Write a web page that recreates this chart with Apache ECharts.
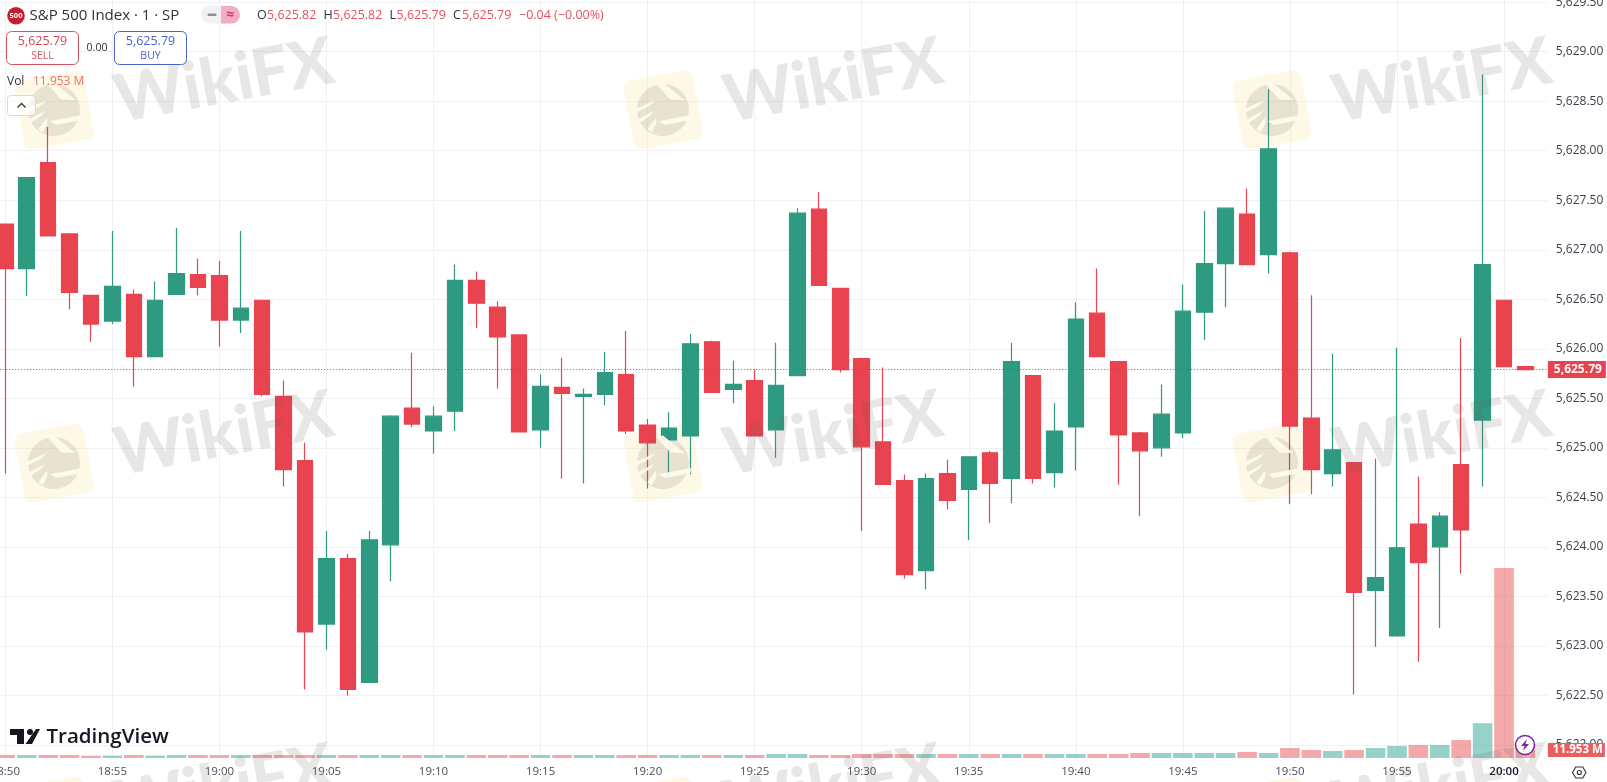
<!DOCTYPE html>
<html>
<head>
<meta charset="utf-8">
<title>S&amp;P 500 Index 1 min</title>
<style>
  html, body { margin: 0; padding: 0; background: #fff; }
  #chart { width: 1607px; height: 782px; }
</style>
<script src="https://cdn.jsdelivr.net/npm/echarts@6/dist/echarts.min.js"></script>
</head>
<body>
<div id="chart"></div>
<script>
// values, one entry per minute from 18:50 to 20:01
var opens = [
  5627.26, 5626.81, 5627.88, 5627.16, 5626.54, 5626.28, 5626.55, 5625.92, 5626.55, 5626.75, 5626.74, 5626.29,
  5626.49, 5625.52, 5624.87, 5623.22, 5623.88, 5622.63, 5624.02, 5625.40, 5625.17, 5625.37, 5626.69, 5626.42,
  5626.14, 5625.18, 5625.61, 5625.52, 5625.54, 5625.74, 5625.23, 5625.08, 5625.12, 5626.07, 5625.59, 5625.68,
  5625.18, 5625.73, 5627.41, 5626.61, 5625.90, 5625.06, 5624.67, 5623.76, 5624.74, 5624.58, 5624.95, 5624.69,
  5625.73, 5624.75, 5625.21, 5626.36, 5625.87, 5625.15, 5625.00, 5625.15, 5626.37, 5626.86, 5627.36, 5626.95,
  5626.97, 5625.30, 5624.74, 5624.85, 5623.56, 5623.10, 5624.23, 5624.00, 5624.83, 5625.28, 5626.49, 5625.82
];
var closes = [
  5626.81, 5627.73, 5627.14, 5626.57, 5626.25, 5626.63, 5625.92, 5626.49, 5626.76, 5626.62, 5626.29, 5626.41,
  5625.54, 5624.78, 5623.14, 5623.88, 5622.56, 5624.07, 5625.32, 5625.24, 5625.32, 5626.69, 5626.46, 5626.12,
  5625.16, 5625.62, 5625.55, 5625.54, 5625.76, 5625.17, 5625.05, 5625.20, 5626.05, 5625.56, 5625.64, 5625.12,
  5625.63, 5627.37, 5626.64, 5625.79, 5625.01, 5624.63, 5623.72, 5624.69, 5624.47, 5624.91, 5624.64, 5625.87,
  5624.69, 5625.17, 5626.30, 5625.92, 5625.13, 5624.97, 5625.34, 5626.38, 5626.86, 5627.42, 5626.85, 5628.02,
  5625.22, 5624.78, 5624.98, 5623.54, 5623.69, 5623.99, 5623.84, 5624.31, 5624.17, 5626.85, 5625.82, 5625.79
];
var lows = [
  5624.74, 5626.53, 5627.14, 5626.40, 5626.07, 5626.25, 5625.62, 5625.92, 5626.55, 5626.54, 5626.02, 5626.16,
  5625.52, 5624.61, 5622.56, 5622.96, 5622.50, 5622.63, 5623.65, 5625.21, 5624.94, 5625.17, 5626.21, 5625.60,
  5625.16, 5625.00, 5624.69, 5624.64, 5625.43, 5625.14, 5624.59, 5624.72, 5624.73, 5625.56, 5625.45, 5625.12,
  5624.90, 5625.73, 5626.64, 5625.76, 5624.16, 5624.63, 5623.68, 5623.57, 5624.38, 5624.07, 5624.24, 5624.44,
  5624.64, 5624.60, 5624.77, 5625.92, 5624.63, 5624.31, 5624.91, 5625.10, 5626.09, 5626.42, 5626.85, 5626.76,
  5624.43, 5624.53, 5624.61, 5622.51, 5622.99, 5623.10, 5622.84, 5623.18, 5623.73, 5624.61, 5625.82, 5625.79
];
var highs = [
  5627.26, 5627.73, 5628.24, 5627.16, 5626.54, 5627.19, 5626.60, 5626.68, 5627.22, 5626.91, 5626.89, 5627.19,
  5626.49, 5625.68, 5625.05, 5624.16, 5623.93, 5624.16, 5625.33, 5625.96, 5625.42, 5626.85, 5626.78, 5626.48,
  5626.14, 5625.74, 5625.91, 5625.60, 5625.97, 5626.18, 5625.29, 5625.36, 5626.15, 5626.08, 5625.88, 5625.79,
  5626.06, 5627.42, 5627.58, 5626.61, 5625.90, 5625.81, 5624.73, 5624.74, 5624.88, 5624.91, 5624.97, 5626.06,
  5625.73, 5625.45, 5626.47, 5626.81, 5625.87, 5625.16, 5625.64, 5626.65, 5627.39, 5627.42, 5627.62, 5628.62,
  5626.98, 5626.54, 5625.95, 5624.85, 5624.89, 5626.01, 5624.71, 5624.35, 5626.11, 5628.77, 5626.49, 5625.82
];
// millions
var volumes = [
  4.6, 4.4, 4.5, 4.4, 3.4, 3.6, 4.5, 3.6, 4.4, 4.4, 4.4, 4.6,
  4.5, 4.5, 4.5, 4.5, 4.4, 4.5, 4.5, 4.4, 4.5, 4.5, 4.4, 4.5,
  4.4, 4.5, 4.6, 4.5, 4.5, 4.4, 4.5, 4.5, 4.6, 4.5, 4.5, 4.5,
  6, 6, 4.5, 4.5, 6, 6, 6, 6, 6, 6, 6, 6,
  6, 6, 6, 6, 6, 7.5, 7.5, 7.5, 7.5, 7.5, 9, 7.5,
  15, 12, 10.5, 12, 15, 18, 19.5, 19.5, 27, 52, 284, 11.953
];
var priceTicks = { min: 5621.5, max: 5630, step: 0.5 };
var lastPrice = 5625.79;
var lastVolume = 11.953;

var RED = '#e8434f', GREEN = '#2e9a81', GRID = '#eff1f4', INK = '#2e323c';
var FONT = '"Open Sans", sans-serif';

function money(v) {
  return v.toLocaleString('en-US', { minimumFractionDigits: 2, maximumFractionDigits: 2 });
}
function clock(m) {
  var t = 18 * 60 + 50 + m;
  var mm = t % 60;
  return Math.floor(t / 60) + ':' + (mm < 10 ? '0' + mm : mm);
}

var candles = opens.map(function (o, i) {
  return [i, o, closes[i], lows[i], highs[i]];
});
var volumeBars = volumes.map(function (v, i) {
  return {
    value: [i, v],
    itemStyle: { color: closes[i] >= opens[i] ? 'rgba(46,165,150,0.5)' : 'rgba(232,84,84,0.5)' }
  };
});

// header, logo, watermark: all just graphic elements
function txt(x, y, text, fill, size, align, weight) {
  return {
    type: 'text', x: x, y: y, z: 60, silent: true,
    style: {
      text: text, fill: fill, align: align || 'left', verticalAlign: 'middle',
      font: (weight || 'normal') + ' ' + size + 'px ' + FONT
    }
  };
}
function box(x, y, w, h, stroke) {
  return {
    type: 'rect', z: 59, silent: true,
    shape: { x: x, y: y, width: w, height: h, r: 5 },
    style: { fill: '#fff', stroke: stroke, lineWidth: 1 }
  };
}
function watermark(cx, cy) {
  var grey = 'rgba(105,95,90,0.15)';
  var cut = 'rgba(254,250,236,0.95)';
  return {
    type: 'group', x: cx, y: cy, rotation: 10.5 * Math.PI / 180, silent: true,
    children: [
      // the cream tile sits under the candles, the grey parts over them
      { type: 'rect', z: 1, shape: { x: -35, y: -35, width: 70, height: 70, r: 8 }, style: { fill: 'rgba(250,232,170,0.28)' } },
      { type: 'circle', z: 51, shape: { cx: 0, cy: 0, r: 26 }, style: { fill: grey } },
      { type: 'polygon', z: 52, shape: { points: [[-2, -27], [5, -27], [23, -6], [9, -9]] }, style: { fill: cut } },
      { type: 'polygon', z: 52, shape: { points: [[-6, 10], [27, 10], [25, 15], [-1, 15]] }, style: { fill: cut } },
      { type: 'polygon', z: 52, shape: { points: [[-27, -6], [-6, -11], [-11, -7], [-27, -2]] }, style: { fill: cut } },
      { type: 'polygon', z: 52, shape: { points: [[-27, 5], [-9, -1], [-13, 3], [-26, 9]] }, style: { fill: cut } },
      { type: 'polygon', z: 52, shape: { points: [[-19, 16], [-8, 6], [-9, 12], [-15, 20]] }, style: { fill: cut } },
      {
        type: 'text', z: 51, x: 172.5, y: 3,
        style: { text: 'WikiFX', fill: grey, align: 'center', verticalAlign: 'middle', font: '900 66px Lato, sans-serif' }
      }
    ]
  };
}

var marks = [];
[-555, 54, 663, 1272].forEach(function (x) {
  [110, 463, 816].forEach(function (y) {
    marks.push(watermark(x, y));
  });
});

var chrome = [
  // symbol line
  { type: 'circle', z: 59, silent: true, shape: { cx: 16, cy: 15.7, r: 8.8 }, style: { fill: '#c2202f' } },
  txt(16, 15.9, '500', '#fff', 7.5, 'center', 'bold'),
  txt(29.5, 15.7, 'S&P 500 Index · 1 · SP', INK, 15),
  { type: 'rect', z: 59, silent: true, shape: { x: 201, y: 6, width: 39, height: 17.5, r: 8.7 }, style: { fill: '#f0f1f4' } },
  { type: 'rect', z: 60, silent: true, shape: { x: 221, y: 6, width: 19, height: 17.5, r: [0, 8.7, 8.7, 0] }, style: { fill: '#f2aec4' } },
  { type: 'rect', z: 61, silent: true, shape: { x: 207.5, y: 13.5, width: 9, height: 2.6, r: 1 }, style: { fill: '#8b8e96' } },
  txt(230, 14.8, '≈', '#d23a6e', 14, 'center', 'bold'),
  txt(257, 15.7, 'O', INK, 12.5), txt(267, 15.7, '5,625.82', '#e0535f', 12.5),
  txt(323.5, 15.7, 'H', INK, 12.5), txt(333, 15.7, '5,625.82', '#e0535f', 12.5),
  txt(389.5, 15.7, 'L', INK, 12.5), txt(396.5, 15.7, '5,625.79', '#e0535f', 12.5),
  txt(453, 15.7, 'C', INK, 12.5), txt(462, 15.7, '5,625.79', '#e0535f', 12.5),
  txt(519, 15.7, '−0.04 (−0.00%)', '#e0535f', 12.5),
  // sell / buy
  box(6.5, 31.5, 72, 33, '#d4545e'),
  txt(42.5, 41.7, '5,625.79', '#d4454f', 12.5, 'center'),
  txt(42.5, 56, 'SELL', '#d4545e', 10.5, 'center'),
  txt(97, 48.5, '0.00', INK, 10.5, 'center'),
  box(114.5, 31.5, 72, 33, '#4a62c8'),
  txt(150.5, 41.7, '5,625.79', '#4a62c8', 12.5, 'center'),
  txt(150.5, 56, 'BUY', '#4a62c8', 10.5, 'center'),
  // volume legend
  txt(7, 81.7, 'Vol', INK, 12),
  txt(33, 81.7, '11.953 M', '#ec7565', 12),
  { type: 'rect', z: 59, silent: true, shape: { x: 7.5, y: 95.5, width: 28, height: 20, r: 3 }, style: { fill: 'rgba(255,255,255,0.7)', stroke: '#d8dae0' } },
  { type: 'polyline', z: 60, silent: true, shape: { points: [[17.5, 107.5], [21.5, 103.5], [25.5, 107.5]] }, style: { fill: 'none', stroke: '#33363f', lineWidth: 1.4 } },
  // TradingView mark
  { type: 'polygon', z: 60, silent: true, shape: { points: [[10, 729], [24, 729], [24, 744], [17, 744], [17, 735], [10, 735]] }, style: { fill: '#131722' } },
  { type: 'polygon', z: 60, silent: true, shape: { points: [[36, 729], [40, 729], [32, 744], [25.5, 744]] }, style: { fill: '#131722' } },
  { type: 'circle', z: 60, silent: true, shape: { cx: 30, cy: 732, r: 3 }, style: { fill: '#131722' } },
  txt(46.5, 737, 'TradingView', '#131722', 20.5, 'left', '600'),
  // lightning button, settings hexagon
  { type: 'circle', z: 60, silent: true, shape: { cx: 1525, cy: 745, r: 9.5 }, style: { fill: '#fff', stroke: '#7b2d9e', lineWidth: 1.6 } },
  { type: 'polygon', z: 61, silent: true, shape: { points: [[1527, 739], [1521, 746], [1524.5, 746], [1523, 751], [1529, 744], [1525.5, 744]] }, style: { fill: '#7b2d9e' } },
  { type: 'polygon', z: 60, silent: true, shape: { points: [[1572.5, 772.5], [1575.8, 767], [1582.8, 767], [1586, 772.5], [1582.8, 778], [1575.8, 778]] }, style: { fill: 'none', stroke: '#2e323c', lineWidth: 1.1 } },
  { type: 'circle', z: 60, silent: true, shape: { cx: 1579.3, cy: 772.5, r: 2 }, style: { fill: 'none', stroke: '#2e323c', lineWidth: 1.1 } }
];

var chart = echarts.init(document.getElementById('chart'));
chart.setOption({
  animation: false,
  backgroundColor: '#fff',
  grid: [
    // candle pane runs past both canvas edges so every tick lands where it should
    { left: -101.75, width: 1648.6, top: -47.3, height: 841.7, outerBoundsMode: 'none' },
    { left: -101.75, width: 1648.6, top: 0, height: 758, outerBoundsMode: 'none' }
  ],
  xAxis: [
    { type: 'value', gridIndex: 0, min: -5, max: 72, interval: 5, show: false },
    {
      type: 'value', gridIndex: 1, min: -5, max: 72, interval: 5,
      axisLine: { show: false },
      axisTick: { show: false },
      splitLine: { show: true, showMaxLine: false, lineStyle: { color: GRID, width: 1 } },
      axisLabel: {
        margin: 8, fontSize: 11.5, fontFamily: FONT, color: '#4a4e59',
        showMaxLabel: false,
        formatter: function (v) {
          if (v % 5 !== 0) return '';
          return v === 70 ? '{now|' + clock(v) + '}' : clock(v);
        },
        rich: { now: { fontSize: 11.5, fontFamily: FONT, color: '#131722', fontWeight: 600 } }
      }
    }
  ],
  yAxis: [
    {
      type: 'value', gridIndex: 0, position: 'right', scale: true,
      min: priceTicks.min, max: priceTicks.max, interval: priceTicks.step,
      axisLine: { show: false },
      axisTick: { show: false },
      splitLine: { show: true, lineStyle: { color: GRID, width: 1 } },
      axisLabel: { margin: 9, fontSize: 12, fontFamily: FONT, color: '#3c404b', formatter: money }
    },
    { type: 'value', gridIndex: 1, min: 0, max: 1132.5, show: false, splitLine: { show: false } }
  ],
  series: [
    {
      type: 'bar', name: 'Vol', xAxisIndex: 1, yAxisIndex: 1,
      barWidth: 19.6,
      data: volumeBars,
      encode: { x: 0, y: 1 },
      markLine: {
        silent: true, symbol: 'none', animation: false,
        lineStyle: { color: 'rgba(0,0,0,0)' },
        label: {
          position: 'end', distance: 1, color: '#fff', backgroundColor: '#e95f5f',
          fontFamily: FONT, fontSize: 11.5, fontWeight: 'bold', padding: [1, 2, 1, 5],
          formatter: function () { return lastVolume + ' M'; }
        },
        data: [{ yAxis: lastVolume }]
      },
      z: 3
    },
    {
      type: 'candlestick', name: 'S&P 500', xAxisIndex: 0, yAxisIndex: 0,
      barWidth: 16,
      data: candles,
      encode: { x: 0, y: [1, 2, 3, 4] },
      itemStyle: { color: GREEN, color0: RED, borderColor: GREEN, borderColor0: RED, borderWidth: 1.2 },
      markLine: {
        silent: true, symbol: 'none', animation: false,
        lineStyle: { color: '#cf3a4a', type: [1, 2], width: 1 },
        label: {
          position: 'end', distance: 1, color: '#fff', backgroundColor: RED,
          fontFamily: FONT, fontSize: 12, fontWeight: 'bold', padding: [3, 4, 2, 6],
          formatter: function () { return money(lastPrice); }
        },
        data: [{ yAxis: lastPrice }]
      },
      z: 4
    }
  ],
  graphic: { elements: marks.concat(chrome) }
});
</script>
</body>
</html>
